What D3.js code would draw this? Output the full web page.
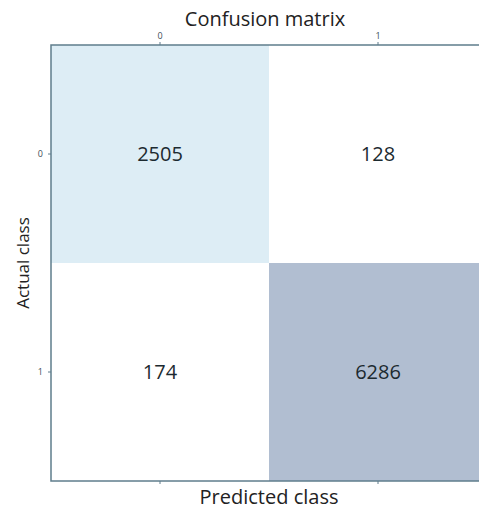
<!DOCTYPE html>
<html>
<head>
<meta charset="utf-8">
<script src="https://cdn.jsdelivr.net/npm/d3@7"></script>
<style>
  body { margin: 0; background: #fff; }
  text { font-family: "Open Sans", sans-serif; }
</style>
</head>
<body>
<script>
var width = 479;
var height = 509;

// data
var classes = ["0", "1"];
var matrix = [
  [2505, 128],
  [174, 6286]
];

var margin = {top: 45, left: 51};
var cell = 218;

var svg = d3.select("body")
    .append("svg")
    .attr("width", width)
    .attr("height", height);

var x = d3.scaleBand().domain(classes).range([margin.left, margin.left + cell * 2]);
var y = d3.scaleBand().domain(classes).range([margin.top, margin.top + cell * 2]);

var color = d3.scaleLinear()
    .domain([174, 2505, 6286])
    .range(["#ffffff", "#ddedf5", "#b1bed1"])
    .clamp(true);

var cells = [];
matrix.forEach(function(row, i) {
  row.forEach(function(v, j) {
    cells.push({row: classes[i], col: classes[j], value: v});
  });
});

svg.selectAll("rect.cell")
    .data(cells)
    .enter().append("rect")
    .attr("class", "cell")
    .attr("x", function(d) { return x(d.col); })
    .attr("y", function(d) { return y(d.row); })
    .attr("width", x.bandwidth())
    .attr("height", y.bandwidth())
    .attr("fill", function(d) { return color(d.value); });

svg.selectAll("text.val")
    .data(cells)
    .enter().append("text")
    .attr("class", "val")
    .attr("x", function(d) { return x(d.col) + x.bandwidth() / 2; })
    .attr("y", function(d) { return y(d.row) + y.bandwidth() / 2; })
    .attr("dy", ".35em")
    .attr("text-anchor", "middle")
    .style("font-size", "20px")
    .style("fill", "#1c2a30")
    .text(function(d) { return d.value; });

// frame
svg.append("rect")
    .attr("x", margin.left)
    .attr("y", margin.top)
    .attr("width", cell * 2)
    .attr("height", cell * 2)
    .attr("fill", "none")
    .attr("stroke", "#5f7d8c")
    .attr("stroke-width", 1.5);

// axes
var xTop = svg.append("g")
    .attr("transform", "translate(0," + margin.top + ")")
    .call(d3.axisTop(x).tickSize(3).tickPadding(3));
var xBottom = svg.append("g")
    .attr("transform", "translate(0," + (margin.top + cell * 2) + ")")
    .call(d3.axisBottom(x).tickSize(3).tickFormat(""));
var yLeft = svg.append("g")
    .attr("transform", "translate(" + margin.left + ",0)")
    .call(d3.axisLeft(y).tickSize(3).tickPadding(5));

[xTop, xBottom, yLeft].forEach(function(g) {
  g.select(".domain").remove();
  g.selectAll(".tick line").attr("stroke", "#5f7d8c");
  g.selectAll(".tick text").style("font-size", "9px").style("fill", "#3e4e58")
    .style("font-family", "'Open Sans', sans-serif");
});

// titles
svg.append("text")
    .attr("x", 265)
    .attr("y", 26)
    .attr("text-anchor", "middle")
    .style("font-size", "20px")
    .style("fill", "#222")
    .text("Confusion matrix");

svg.append("text")
    .attr("x", margin.left + cell)
    .attr("y", 504)
    .attr("text-anchor", "middle")
    .style("font-size", "20px")
    .style("fill", "#222")
    .text("Predicted class");

svg.append("text")
    .attr("transform", "translate(29," + (margin.top + cell) + ") rotate(-90)")
    .attr("text-anchor", "middle")
    .style("font-size", "17px")
    .style("fill", "#222")
    .text("Actual class");
</script>
</body>
</html>
